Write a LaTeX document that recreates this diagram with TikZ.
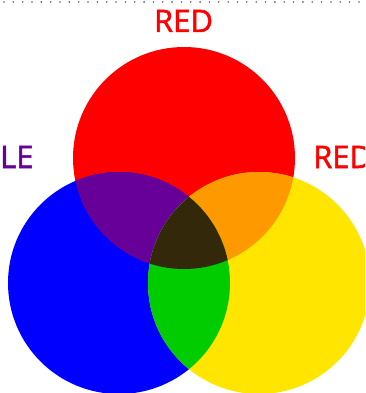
\documentclass[tikz,border=0pt]{standalone}
\usepackage{fontspec}
\newfontfamily\lblfont[FakeBold=1.6]{Open Sans}
\usepackage{tikz}
\definecolor{rgbred}{HTML}{FF0000}
\definecolor{rgbblue}{HTML}{0000FF}
\definecolor{rgbyellow}{HTML}{FFE500}
\definecolor{mixpurple}{HTML}{660099}
\definecolor{mixorange}{HTML}{FF9900}
\definecolor{mixgreen}{HTML}{00CC00}
\definecolor{mixdark}{HTML}{33280A}
\definecolor{dotgray}{HTML}{606060}

\begin{document}
\begin{tikzpicture}[x=1pt,y=-1pt,
    lbl/.style={inner sep=0pt, font=\lblfont\fontsize{31}{31}\selectfont}]
\useasboundingbox (0,0) rectangle (365,393);
\clip (0,0) rectangle (365,393);
\foreach \i in {0,...,38}
  \fill[dotgray] (4+\i*9.34,2) circle (0.9);
\coordinate (redc) at (184,158);
\coordinate (bluec) at (119,283);
\coordinate (yelc) at (259,283);
% primaries
\fill[rgbred] (redc) circle (111);
\fill[rgbblue] (bluec) circle (111);
\fill[rgbyellow] (yelc) circle (111);
% pairwise overlaps
\begin{scope}
  \clip (redc) circle (111);
  \fill[mixpurple] (bluec) circle (111);
  \fill[mixorange] (yelc) circle (111);
\end{scope}
\begin{scope}
  \clip (bluec) circle (111);
  \fill[mixgreen] (yelc) circle (111);
  \clip (yelc) circle (111);
  \fill[mixdark] (redc) circle (111);
\end{scope}
\node[lbl, text=rgbred, anchor=base] (topred) at (183.5,32) {RED};
\node[lbl, text=mixpurple, anchor=base west] (leftlbl) at (0,168) {LE};
\node[lbl, text=rgbred, anchor=base west] (rightred) at (313,168) {RED};
\end{tikzpicture}
\end{document}
